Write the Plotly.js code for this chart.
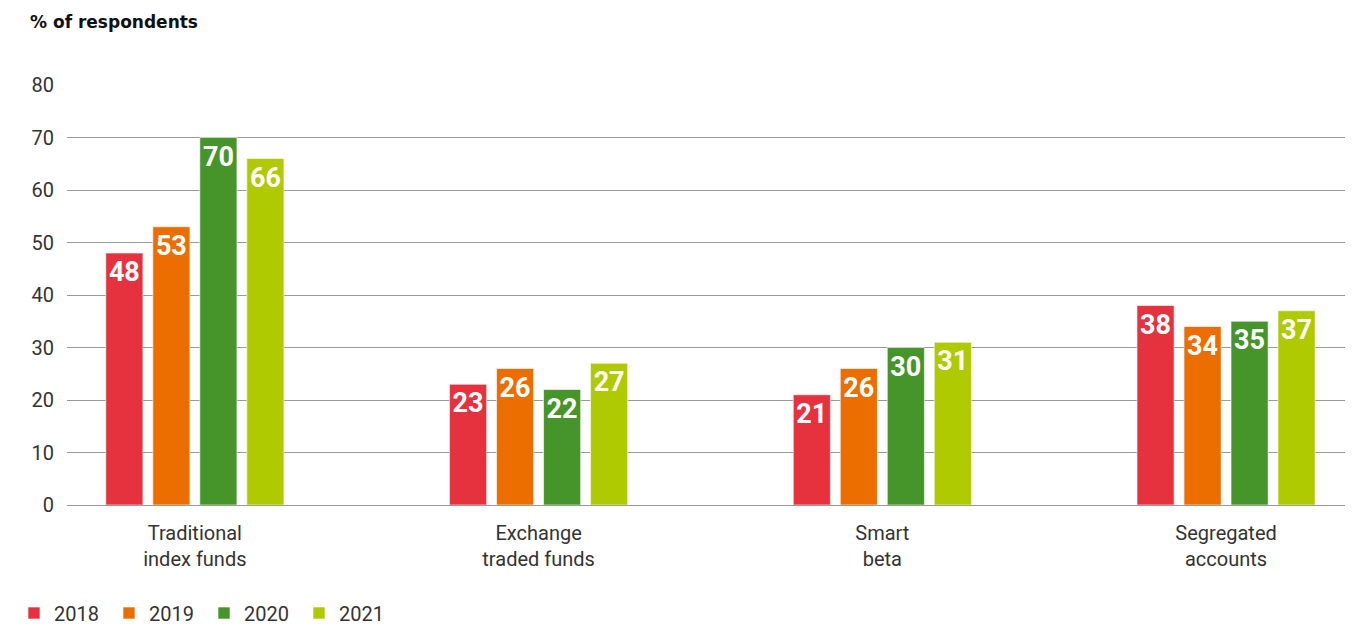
<!DOCTYPE html>
<html>
<head>
<meta charset="utf-8">
<script src="https://cdn.plot.ly/plotly-3.0.1.min.js"></script>
<style>html,body{margin:0;padding:0;background:#fff;}#chart{width:1368px;height:627px;}</style>
</head>
<body>
<div id="chart"></div>
<script>
const categories = ["Traditional<br>index funds", "Exchange<br>traded funds", "Smart<br>beta", "Segregated<br>accounts"];
const years = ["2018", "2019", "2020", "2021"];
const v2018 = [48, 23, 21, 38];
const v2019 = [53, 26, 26, 34];
const v2020 = [70, 22, 30, 35];
const v2021 = [66, 27, 31, 37];
const colors = ["#E6323E", "#EC6E00", "#46952B", "#AFCA00"];
const series = [v2018, v2019, v2020, v2021];

const traces = series.map((vals, i) => ({
  type: "bar",
  name: years[i],
  x: categories,
  y: vals,
  text: vals.map(String),
  textposition: "inside",
  insidetextanchor: "end",
  textangle: 0,
  textfont: {family: "Roboto, Arial, sans-serif", size: 27, color: "#ffffff", weight: "bold"},
  marker: {color: colors[i], line: {color: "rgba(255,255,255,0.6)", width: 1}},
  hoverinfo: "skip"
}));

const layout = {
  width: 1368, height: 627,
  margin: {l: 67, r: 23, t: 85, b: 122},
  paper_bgcolor: "#ffffff", plot_bgcolor: "#ffffff",
  font: {family: "Roboto, Arial, sans-serif", color: "#333333", size: 20},
  title: {
    text: "<b>% of respondents</b>",
    x: 30/1368, xref: "container", xanchor: "left",
    y: 1 - 22/627, yref: "container", yanchor: "middle",
    font: {family: "'DejaVu Sans', Arial, sans-serif", size: 17, color: "#111111"}
  },
  barmode: "group",
  bargap: 0.453,
  bargroupgap: 0.21,
  xaxis: {
    type: "category",
    range: [-0.372, 3.346],
    showgrid: false, zeroline: false, showline: false,
    ticks: "", ticklabelstandoff: 14,
    tickfont: {size: 20, color: "#333333"}
  },
  yaxis: {
    range: [0, 80],
    tickvals: [0, 10, 20, 30, 40, 50, 60, 70, 80],
    showgrid: true, gridcolor: "#9a9a9a", gridwidth: 1,
    zeroline: true, zerolinecolor: "#9a9a9a", zerolinewidth: 1,
    showline: false, ticks: "", ticklabelstandoff: 12,
    tickfont: {size: 20, color: "#333333"}
  },
  showlegend: true,
  legend: {
    orientation: "h",
    x: 14/1368, xref: "container", xanchor: "left",
    y: 1 - 613/627, yref: "container", yanchor: "middle",
    entrywidth: 50, entrywidthmode: "pixels",
    font: {size: 20, color: "#333333"},
    itemclick: false
  }
};

Plotly.newPlot("chart", traces, layout, {displayModeBar: false, staticPlot: true});
</script>
</body>
</html>
